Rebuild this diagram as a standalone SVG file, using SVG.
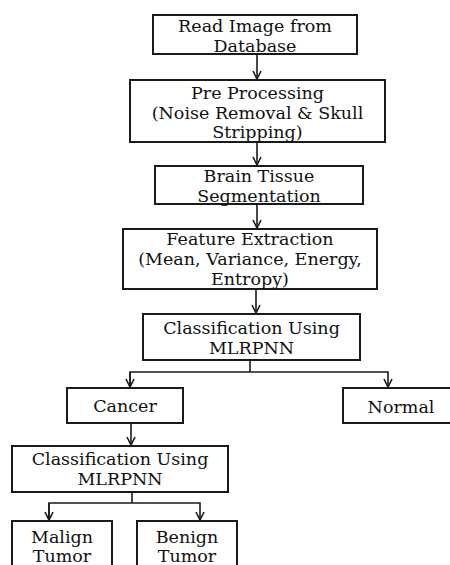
<svg xmlns="http://www.w3.org/2000/svg" width="450" height="565" viewBox="0 0 450 565">
<defs>
<style>
rect{fill:#fff;stroke:#1a1a1a;stroke-width:2}
text{font-family:"DejaVu Serif","Liberation Serif",serif;font-size:17.5px;fill:#111;text-anchor:middle}
.c{fill:none;stroke:#1a1a1a;stroke-width:1.6}
</style>
<marker id="ah" viewBox="0 0 10 10" refX="9" refY="5" markerWidth="10" markerHeight="10" markerUnits="userSpaceOnUse" orient="auto">
<path d="M1,1 L9,5 L1,9" fill="none" stroke="#1a1a1a" stroke-width="1.6"/>
</marker>
</defs>
<rect x="0" y="0" width="450" height="565" style="stroke:none"/>
<g id="connectors">
<path class="c" d="M257,54 V79" marker-end="url(#ah)"/>
<path class="c" d="M257,142 V165" marker-end="url(#ah)"/>
<path class="c" d="M257,204 V228" marker-end="url(#ah)"/>
<path class="c" d="M256,289 V313" marker-end="url(#ah)"/>
<path class="c" d="M250,360 V372"/>
<path class="c" d="M130,387 V372 H388 V387" marker-end="url(#ah)"/>
<path class="c" d="M130,372 V387" marker-end="url(#ah)"/>
<path class="c" d="M131,423 V445" marker-end="url(#ah)"/>
<path class="c" d="M132,492 V503"/>
<path class="c" d="M49,520 V503 H200 V520" marker-end="url(#ah)"/>
<path class="c" d="M49,503 V520" marker-end="url(#ah)"/>
</g>
<g id="read">
<rect x="153" y="15" width="204" height="39"/>
<text x="255" y="32">Read Image from</text>
<text x="255" y="52">Database</text>
</g>
<g id="preprocessing">
<rect x="130" y="80" width="255" height="62"/>
<text x="257.5" y="99">Pre Processing</text>
<text x="257.5" y="119">(Noise Removal &amp; Skull</text>
<text x="257.5" y="138">Stripping)</text>
</g>
<g id="segmentation">
<rect x="155" y="166" width="208" height="38"/>
<text x="259" y="182">Brain Tissue</text>
<text x="259" y="202">Segmentation</text>
</g>
<g id="features">
<rect x="123" y="229" width="254" height="60"/>
<text x="250" y="245">Feature Extraction</text>
<text x="250" y="265">(Mean, Variance, Energy,</text>
<text x="250" y="285">Entropy)</text>
</g>
<g id="classify1">
<rect x="143" y="314" width="217" height="46"/>
<text x="251.5" y="334">Classification Using</text>
<text x="251.5" y="354">MLRPNN</text>
</g>
<g id="cancer">
<rect x="67" y="388" width="116" height="35"/>
<text x="125" y="412">Cancer</text>
</g>
<g id="normal">
<rect x="343" y="388" width="116" height="35"/>
<text x="401" y="413">Normal</text>
</g>
<g id="classify2">
<rect x="12" y="446" width="216" height="46"/>
<text x="120" y="465">Classification Using</text>
<text x="120" y="485">MLRPNN</text>
</g>
<g id="malign">
<rect x="12" y="521" width="100" height="60"/>
<text x="62" y="543">Malign</text>
<text x="62" y="562">Tumor</text>
</g>
<g id="benign">
<rect x="137" y="521" width="100" height="60"/>
<text x="187" y="543">Benign</text>
<text x="187" y="562">Tumor</text>
</g>
</svg>
